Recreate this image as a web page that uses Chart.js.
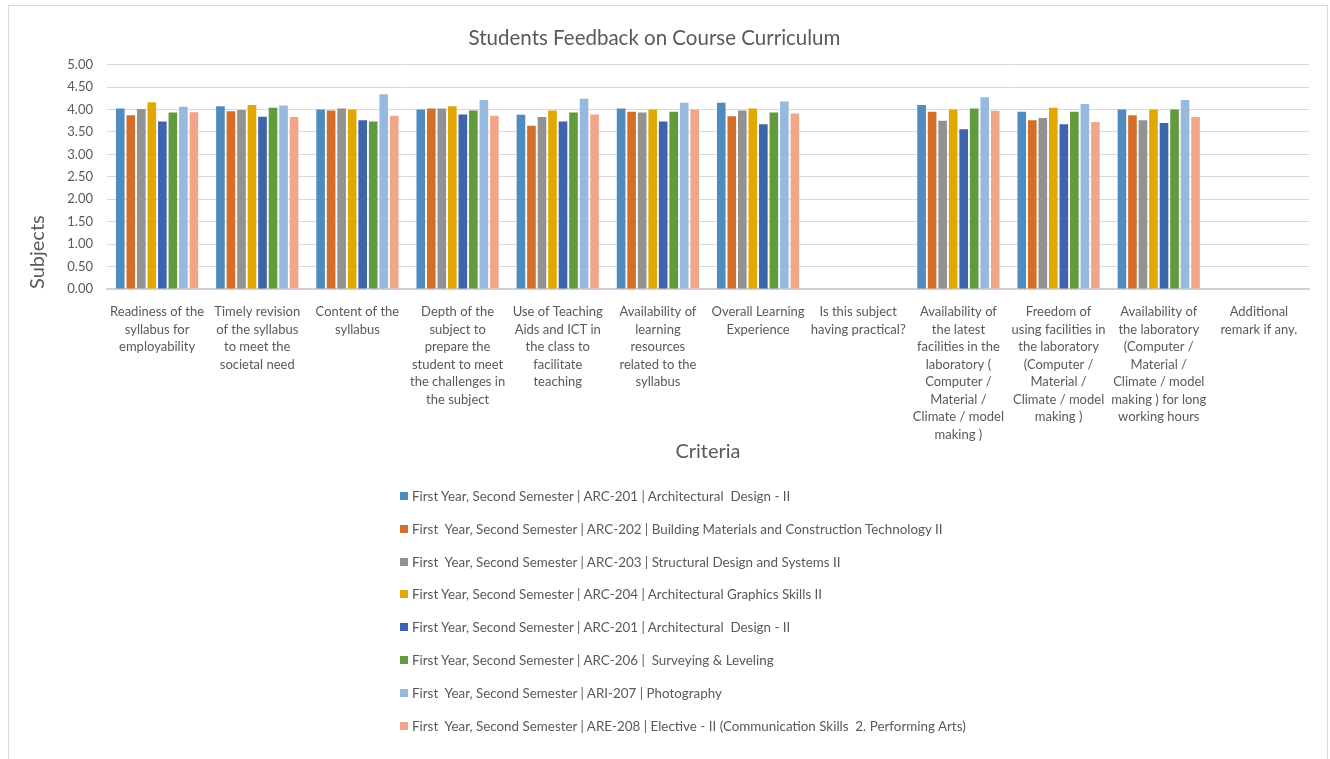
<!DOCTYPE html>
<html>
<head>
<meta charset="utf-8">
<script src="https://cdn.jsdelivr.net/npm/chart.js@4.4.0/dist/chart.umd.min.js"></script>
<style>
  html, body { margin: 0; padding: 0; background: #fff; }
  body { width: 1330px; height: 759px; position: relative; overflow: hidden; font-family: Lato, "Liberation Sans", sans-serif; }
  #frame { position: absolute; left: 8px; top: 5px; width: 1320px; height: 760px; border: 1px solid #D9D9D9; box-sizing: border-box; }
  #wrap { position: absolute; left: 0; top: 0; width: 1330px; height: 759px; }
  #legend { position: absolute; left: 400px; top: 486px; margin: 0; padding: 0; list-style: none; }
  #legend li { height: 32.8px; line-height: 20px; font-size: 13.4px; color: #595959; white-space: pre; display: flex; align-items: flex-start; }
  #legend li span.box { display: inline-block; width: 8px; height: 8px; margin: 6px 4px 0 0; }
</style>
</head>
<body>
<div id="frame"></div>
<div id="wrap"><canvas id="c" width="1330" height="759"></canvas></div>
<ul id="legend"></ul>
<script>
const categories = [
  ["Readiness of the", "syllabus for", "employability"],
  ["Timely revision", "of the syllabus", "to meet the", "societal need"],
  ["Content of the", "syllabus"],
  ["Depth of the", "subject to", "prepare the", "student to meet", "the challenges in", "the subject"],
  ["Use of Teaching", "Aids and ICT in", "the class to", "facilitate", "teaching"],
  ["Availability of", "learning", "resources", "related to the", "syllabus"],
  ["Overall Learning", "Experience"],
  ["Is this subject", "having practical?"],
  ["Availability of", "the latest", "facilities in the", "laboratory (", "Computer /", "Material /", "Climate / model", "making )"],
  ["Freedom of", "using facilities in", "the laboratory", "(Computer /", "Material /", "Climate / model", "making )"],
  ["Availability of", "the laboratory", "(Computer /", "Material /", "Climate / model", "making ) for long", "working hours"],
  ["Additional", "remark if any."]
];

const seriesLabels = [
  "First Year, Second Semester | ARC-201 | Architectural  Design - II",
  "First  Year, Second Semester | ARC-202 | Building Materials and Construction Technology II",
  "First  Year, Second Semester | ARC-203 | Structural Design and Systems II",
  "First Year, Second Semester | ARC-204 | Architectural Graphics Skills II",
  "First Year, Second Semester | ARC-201 | Architectural  Design - II",
  "First Year, Second Semester | ARC-206 |  Surveying & Leveling",
  "First  Year, Second Semester | ARI-207 | Photography",
  "First  Year, Second Semester | ARE-208 | Elective - II (Communication Skills  2. Performing Arts)"
];

const arc201 = [4.02, 4.07, 4.00, 4.00, 3.88, 4.02, 4.15, null, 4.10, 3.95, 4.00, null];
const arc202 = [3.87, 3.96, 3.98, 4.02, 3.64, 3.95, 3.85, null, 3.95, 3.76, 3.87, null];
const arc203 = [4.01, 3.99, 4.02, 4.02, 3.83, 3.93, 3.98, null, 3.75, 3.81, 3.76, null];
const arc204 = [4.16, 4.10, 4.00, 4.07, 3.98, 4.00, 4.02, null, 4.00, 4.04, 4.00, null];
const arc201b = [3.73, 3.84, 3.76, 3.89, 3.73, 3.73, 3.67, null, 3.56, 3.67, 3.70, null];
const arc206 = [3.93, 4.04, 3.73, 3.98, 3.93, 3.95, 3.93, null, 4.02, 3.95, 4.00, null];
const ari207 = [4.06, 4.09, 4.34, 4.21, 4.24, 4.15, 4.18, null, 4.27, 4.12, 4.21, null];
const are208 = [3.94, 3.83, 3.86, 3.86, 3.89, 4.00, 3.91, null, 3.97, 3.72, 3.83, null];

const yTicks = [0, 0.5, 1, 1.5, 2, 2.5, 3, 3.5, 4, 4.5, 5];

const seriesValues = [arc201, arc202, arc203, arc204, arc201b, arc206, ari207, are208];
const seriesColors = ["#4F8BBF", "#D46F2A", "#929292", "#E0A800", "#3D64AD", "#629A3E", "#97B9E0", "#F1A68A"];

const textColor = "#595959";
const fontFamily = "Lato, 'Liberation Sans', sans-serif";

const chart = new Chart(document.getElementById('c'), {
  type: 'bar',
  data: {
    labels: categories,
    datasets: seriesValues.map((v, i) => ({
      label: seriesLabels[i],
      data: v,
      backgroundColor: seriesColors[i],
      borderWidth: 0,
      categoryPercentage: 0.84,
      barPercentage: 0.82
    }))
  },
  options: {
    responsive: false,
    animation: false,
    events: [],
    layout: { padding: { left: 0, right: 21, top: 0, bottom: 295 } },
    plugins: {
      legend: { display: false },
      tooltip: { enabled: false },
      title: {
        display: true,
        text: "Students Feedback on Course Curriculum",
        color: textColor,
        font: { family: fontFamily, size: 20.5, weight: 'normal', lineHeight: 1.2 },
        padding: { top: 26, bottom: 14 }
      }
    },
    scales: {
      x: {
        grid: { display: false, drawTicks: false },
        border: { display: true, color: "#D0D0D0", width: 2 },
        ticks: {
          color: textColor,
          font: { family: fontFamily, size: 13, lineHeight: 1.35 },
          padding: 14,
          maxRotation: 0,
          minRotation: 0,
          autoSkip: false
        },
        title: {
          display: true,
          text: "Criteria",
          color: textColor,
          font: { family: fontFamily, size: 20, lineHeight: 1.2 },
          padding: { top: 0, bottom: 0 }
        },
        afterFit: (s) => { s.height = 175; }
      },
      y: {
        min: 0,
        max: 5,
        afterBuildTicks: (s) => { s.ticks = yTicks.map(v => ({ value: v })); },
        grid: { color: "#D9D9D9", lineWidth: 1, drawTicks: false },
        border: { display: false },
        ticks: {
          color: textColor,
          font: { family: fontFamily, size: 13 },
          padding: 14,
          callback: (v) => Number(v).toFixed(2)
        },
        title: {
          display: true,
          text: "Subjects",
          align: 'start',
          color: textColor,
          font: { family: fontFamily, size: 20, lineHeight: 1.2 },
          padding: { top: 26, bottom: 0 }
        },
        afterFit: (s) => { s.width = 107; }
      }
    }
  }
});

const legend = document.getElementById('legend');
seriesLabels.forEach((lab, i) => {
  const li = document.createElement('li');
  const box = document.createElement('span');
  box.className = 'box';
  box.style.background = seriesColors[i];
  li.appendChild(box);
  li.appendChild(document.createTextNode(lab));
  legend.appendChild(li);
});
</script>
</body>
</html>
